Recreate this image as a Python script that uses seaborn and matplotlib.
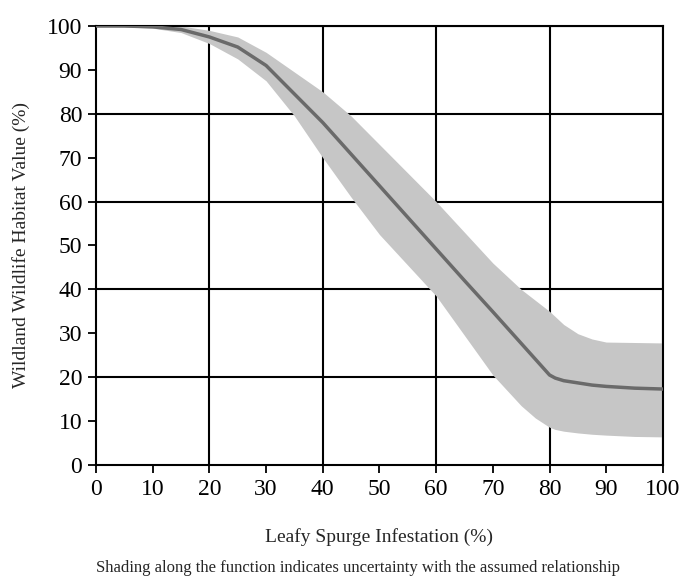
import matplotlib
matplotlib.use('Agg')
import matplotlib.pyplot as plt
import seaborn as sns
import pandas as pd
import numpy as np

# infestation (%) and habitat value (%)
infestation = [0, 5, 10, 15, 20, 25, 30, 35, 40, 45, 50, 55, 60, 65, 70, 75, 77.5, 80, 81, 82.5, 85, 87.5, 90, 95, 100]
habitat_mid = [100, 100, 99.8, 99.2, 97.5, 95.2, 91, 84.5, 78, 70.8, 63.6, 56.4, 49.2, 42, 34.9, 27.7, 24.1, 20.5, 19.8, 19.2, 18.7, 18.2, 17.9, 17.5, 17.3]
habitat_hi = [100, 100, 100, 100, 99, 97.5, 94, 89.5, 85, 79.5, 73, 66.5, 60, 53, 46, 40, 37.5, 35, 33.8, 32, 29.9, 28.7, 28, 27.9, 27.8]
habitat_lo = [100, 99.8, 99.5, 98.5, 96, 92.5, 87.5, 79.5, 70, 61, 52.5, 45.5, 38.5, 29.5, 20.5, 13.5, 10.7, 8.6, 8.1, 7.7, 7.3, 7.0, 6.8, 6.5, 6.4]

df = pd.DataFrame({'infestation': infestation, 'value': habitat_mid,
                   'hi': habitat_hi, 'lo': habitat_lo})

sns.set_style('white')
plt.rcParams['font.family'] = ['Liberation Serif', 'DejaVu Serif']

fig = plt.figure(figsize=(6.82, 5.80), dpi=100)
ax = fig.add_axes([0.1408, 0.1983, 0.8312, 0.7569])

# uncertainty band + assumed function
ax.fill_between(df.infestation, df.lo, df.hi, color='#c6c6c6', lw=0, zorder=2)
sns.lineplot(data=df, x='infestation', y='value', color='#6a6a6a', lw=2.5, ax=ax, zorder=3)

ax.set_xlim(0, 100)
ax.set_ylim(0, 100)
ax.set_xticks(range(0, 101, 10))
ax.set_yticks(range(0, 101, 10))
ax.tick_params(direction='out', length=6, width=1.3, colors='black',
               labelsize=17, pad=4, bottom=True, left=True)

# heavy grid every 20
for v in range(20, 101, 20):
    ax.axvline(v, color='black', lw=1.5, zorder=1)
    ax.axhline(v, color='black', lw=1.5, zorder=1)

for s in ax.spines.values():
    s.set_color('black')
    s.set_linewidth(1.5)

ax.set_xlabel('Leafy Spurge Infestation (%)', fontsize=14, labelpad=20)
ax.set_ylabel('Wildland Wildlife Habitat Value (%)', fontsize=14, labelpad=12)

fig.text(0.525, 1 - 568 / 580, 'Shading along the function indicates uncertainty with the assumed relationship',
         ha='center', va='center', fontsize=12)

plt.savefig('out.png', dpi=100)
